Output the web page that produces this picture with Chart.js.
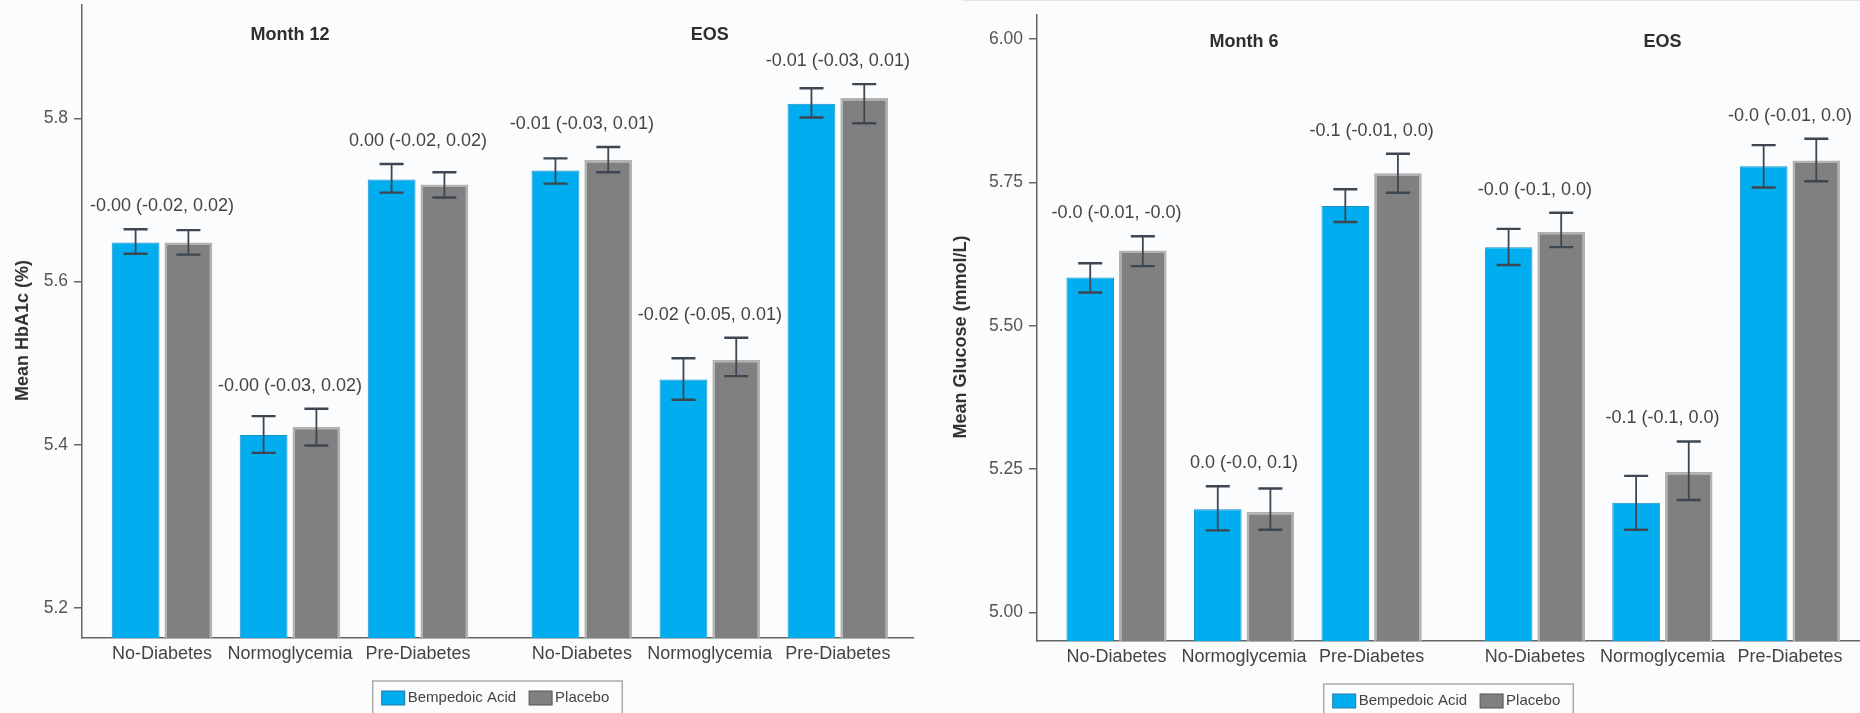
<!DOCTYPE html>
<html>
<head>
<meta charset="utf-8">
<script src="https://cdn.jsdelivr.net/npm/chart.js@4.4.1/dist/chart.umd.min.js"></script>
<style>
  body { margin: 0; background: #fbfcfd; overflow: hidden; }
  #wrap { position: relative; width: 1860px; height: 713px; }
  #wrap canvas { position: absolute; top: 0; }
  #hba1c { left: 0; }
  #glucose { left: 930px; }
  .topline { position: absolute; left: 962px; right: 0; top: 0; height: 1px; background: #e3e5e8; }
</style>
</head>
<body>
<div id="wrap">
  <div class="topline"></div>
  <canvas id="hba1c" width="930" height="713"></canvas>
  <canvas id="glucose" width="930" height="713"></canvas>
</div>
<script>
// subgroups, visits, treatment arms
let groups = ['No-Diabetes', 'Normoglycemia', 'Pre-Diabetes'];
let seriesNames = ['Bempedoic Acid', 'Placebo'];

// HbA1c (%) - Month 12 then EOS
let hba1cVisits = ['Month 12', 'EOS'];
let hba1cBempedoic = [5.648, 5.412, 5.725, 5.736, 5.480, 5.818];
let hba1cBempedoicLow = [5.634, 5.390, 5.709, 5.720, 5.455, 5.801];
let hba1cBempedoicHigh = [5.664, 5.435, 5.744, 5.751, 5.506, 5.837];
let hba1cPlacebo = [5.648, 5.422, 5.719, 5.749, 5.504, 5.825];
let hba1cPlaceboLow = [5.633, 5.399, 5.703, 5.734, 5.484, 5.794];
let hba1cPlaceboHigh = [5.663, 5.444, 5.734, 5.765, 5.531, 5.842];
let hba1cDiffs = ['-0.00 (-0.02, 0.02)', '-0.00 (-0.03, 0.02)', '0.00 (-0.02, 0.02)',
                  '-0.01 (-0.03, 0.01)', '-0.02 (-0.05, 0.01)', '-0.01 (-0.03, 0.01)'];
let hba1cTicks = [5.2, 5.4, 5.6, 5.8];

// Glucose (mmol/L) - Month 6 then EOS
let glucoseVisits = ['Month 6', 'EOS'];
let glucoseBempedoic = [5.584, 5.180, 5.709, 5.637, 5.191, 5.778];
let glucoseBempedoicLow = [5.558, 5.143, 5.681, 5.606, 5.144, 5.741];
let glucoseBempedoicHigh = [5.609, 5.220, 5.738, 5.669, 5.238, 5.815];
let glucosePlacebo = [5.631, 5.175, 5.766, 5.664, 5.245, 5.788];
let glucosePlaceboLow = [5.604, 5.144, 5.732, 5.637, 5.196, 5.752];
let glucosePlaceboHigh = [5.656, 5.216, 5.800, 5.697, 5.298, 5.826];
let glucoseDiffs = ['-0.0 (-0.01, -0.0)', '0.0 (-0.0, 0.1)', '-0.1 (-0.01, 0.0)',
                    '-0.0 (-0.1, 0.0)', '-0.1 (-0.1, 0.0)', '-0.0 (-0.01, 0.0)'];
let glucoseTicks = [5.00, 5.25, 5.50, 5.75, 6.00];

let fontFamily = '"Liberation Sans", Arial, Helvetica, sans-serif';
Chart.defaults.font.family = fontFamily;
Chart.defaults.color = '#555';
Chart.defaults.animation = false;

// extra space between the two visit blocks, in category units
let visitGap = 0.28;
function xPositions(nVisits) {
  let out = [];
  for (let v = 0; v < nVisits; v++) {
    groups.forEach((g, i) => out.push(v * (groups.length + visitGap) + i));
  }
  return out;
}

// error bars, difference labels, visit headers, axis title and the boxed legend
function extrasPlugin(s) {
  return {
    id: 'extras',
    afterDatasetsDraw(chart) {
      let ctx = chart.ctx;
      let xs = chart.scales.x, ys = chart.scales.y;
      let xPos = xPositions(s.visits.length);
      ctx.save();

      // thin red line along the base of the placebo bars
      if (s.baseLine) {
        ctx.strokeStyle = '#b5484c';
        ctx.lineWidth = 2;
        chart.getDatasetMeta(1).data.forEach((bar) => {
          ctx.beginPath();
          ctx.moveTo(bar.x - bar.width / 2 + 1, bar.base - 1.5);
          ctx.lineTo(bar.x + bar.width / 2 - 1, bar.base - 1.5);
          ctx.stroke();
        });
      }

      ctx.strokeStyle = '#3d4651';
      let tops = [];
      chart.data.datasets.forEach((ds, d) => {
        chart.getDatasetMeta(d).data.forEach((bar, i) => {
          let lo = ys.getPixelForValue(ds.errLow[i]);
          let hi = ys.getPixelForValue(ds.errHigh[i]);
          tops[i] = Math.min(tops[i] === undefined ? hi : tops[i], hi);
          ctx.lineWidth = 1.8;
          ctx.beginPath();
          ctx.moveTo(bar.x, lo);
          ctx.lineTo(bar.x, hi);
          ctx.stroke();
          ctx.lineWidth = 2.4;
          ctx.beginPath();
          ctx.moveTo(bar.x - 12, lo); ctx.lineTo(bar.x + 12, lo);
          ctx.moveTo(bar.x - 12, hi); ctx.lineTo(bar.x + 12, hi);
          ctx.stroke();
        });
      });

      ctx.textAlign = 'center';
      ctx.textBaseline = 'middle';
      ctx.fillStyle = '#444';
      ctx.font = '18px ' + fontFamily;
      s.diffs.forEach((txt, i) => {
        ctx.fillText(txt, xs.getPixelForValue(xPos[i]), tops[i] - 23);
      });

      ctx.fillStyle = '#2e2e2e';
      ctx.font = 'bold 18px ' + fontFamily;
      s.visits.forEach((v, k) => {
        let mid = xPos[k * groups.length + 1];
        ctx.fillText(v, xs.getPixelForValue(mid), chart.chartArea.top + s.headerY);
      });
      ctx.restore();
    },
    afterDraw(chart) {
      let ctx = chart.ctx;
      let area = chart.chartArea;
      let ds = chart.data.datasets;
      ctx.save();

      // y axis title, a little below the middle of the axis
      ctx.save();
      ctx.translate(s.titleX, (area.top + area.bottom) / 2 + 9);
      ctx.rotate(-Math.PI / 2);
      ctx.font = 'bold 18px ' + fontFamily;
      ctx.fillStyle = '#333';
      ctx.textAlign = 'center';
      ctx.textBaseline = 'middle';
      ctx.fillText(s.title, 0, 0);
      ctx.restore();

      ctx.font = '15px ' + fontFamily;
      let w1 = ctx.measureText(ds[0].label).width;
      let w2 = ctx.measureText(ds[1].label).width;
      let boxW = 9 + 23 + 3 + w1 + 13 + 23 + 3 + w2 + 13;
      let left = (area.left + area.right) / 2 - boxW / 2;
      let top = area.bottom + 43;
      ctx.strokeStyle = '#a9a9a9';
      ctx.lineWidth = 1.5;
      ctx.strokeRect(left, top, boxW, 50);

      let x = left + 9;
      ds.forEach((d, k) => {
        ctx.fillStyle = d.backgroundColor;
        ctx.fillRect(x, top + 10, 23, 14);
        ctx.strokeStyle = k === 0 ? '#2679a6' : '#555';
        ctx.lineWidth = 1;
        ctx.strokeRect(x, top + 10, 23, 14);
        ctx.fillStyle = '#444';
        ctx.textAlign = 'left';
        ctx.textBaseline = 'middle';
        ctx.fillText(d.label, x + 26, top + 17);
        x += 26 + (k === 0 ? w1 : w2) + 13;
      });
      ctx.restore();
    }
  };
}

function makeChart(id, s) {
  let xPos = xPositions(s.visits.length);
  return new Chart(document.getElementById(id), {
    type: 'bar',
    data: {
      datasets: [{
        label: seriesNames[0],
        data: s.bempedoic.map((v, i) => ({x: xPos[i], y: v})),
        errLow: s.bempedoicLow,
        errHigh: s.bempedoicHigh,
        backgroundColor: '#00aeef',
        borderColor: '#1b8ec4',
        borderWidth: 1
      }, {
        label: seriesNames[1],
        data: s.placebo.map((v, i) => ({x: xPos[i], y: v})),
        errLow: s.placeboLow,
        errHigh: s.placeboHigh,
        backgroundColor: '#808080',
        borderColor: '#b2b2b2',
        borderWidth: 2.5
      }]
    },
    options: {
      responsive: false,
      categoryPercentage: 0.825,
      barPercentage: 0.905,
      layout: { padding: { left: 0, top: s.top, right: s.right, bottom: 0 } },
      plugins: { legend: { display: false }, tooltip: { enabled: false } },
      scales: {
        x: {
          type: 'linear',
          offset: false,
          min: s.xMin,
          max: s.xMax,
          grid: { display: false, drawTicks: false },
          border: { display: true, color: '#666', width: 1.5 },
          ticks: {
            autoSkip: false,
            maxRotation: 0,
            padding: 5,
            color: '#444',
            font: { size: 18 },
            callback: (v, i) => groups[i % groups.length]
          },
          afterBuildTicks: (axis) => { axis.ticks = xPos.map(v => ({value: v})); },
          afterFit: (axis) => {
            axis.height = s.xHeight;
            axis.paddingLeft = 0; axis.paddingRight = 0;
          }
        },
        y: {
          min: s.yMin,
          max: s.yMax,
          grid: { display: true, drawOnChartArea: false, drawTicks: true, tickLength: 8, color: '#666', lineWidth: 1.5 },
          border: { display: true, color: '#666', width: 1.5 },
          ticks: {
            padding: 6,
            color: '#555',
            font: { size: 17.5 },
            callback: (v) => v.toFixed(s.decimals)
          },
          afterBuildTicks: (axis) => { axis.ticks = s.ticks.map(v => ({value: v})); },
          afterFit: (axis) => {
            axis.width = s.yWidth;
            axis.paddingTop = 0; axis.paddingBottom = 0;
          }
        }
      }
    },
    plugins: [extrasPlugin(s)]
  });
}

let hba1cChart = makeChart('hba1c', {
  visits: hba1cVisits,
  bempedoic: hba1cBempedoic, bempedoicLow: hba1cBempedoicLow, bempedoicHigh: hba1cBempedoicHigh,
  placebo: hba1cPlacebo, placeboLow: hba1cPlaceboLow, placeboHigh: hba1cPlaceboHigh,
  diffs: hba1cDiffs,
  ticks: hba1cTicks, decimals: 1,
  yMin: 5.163, yMax: 5.939,
  xMin: -0.625, xMax: 5.867,
  title: 'Mean HbA1c (%)', titleX: 23,
  top: 5, right: 17, yWidth: 82, xHeight: 75, headerY: 30, baseLine: false
});

let glucoseChart = makeChart('glucose', {
  visits: glucoseVisits,
  bempedoic: glucoseBempedoic, bempedoicLow: glucoseBempedoicLow, bempedoicHigh: glucoseBempedoicHigh,
  placebo: glucosePlacebo, placeboLow: glucosePlaceboLow, placeboHigh: glucosePlaceboHigh,
  diffs: glucoseDiffs,
  ticks: glucoseTicks, decimals: 2,
  yMin: 4.95, yMax: 6.042,
  xMin: -0.6235, xMax: 5.829,
  title: 'Mean Glucose (mmol/L)', titleX: 31,
  top: 15, right: 0, yWidth: 107, xHeight: 72, headerY: 27, baseLine: true
});
</script>
</body>
</html>
